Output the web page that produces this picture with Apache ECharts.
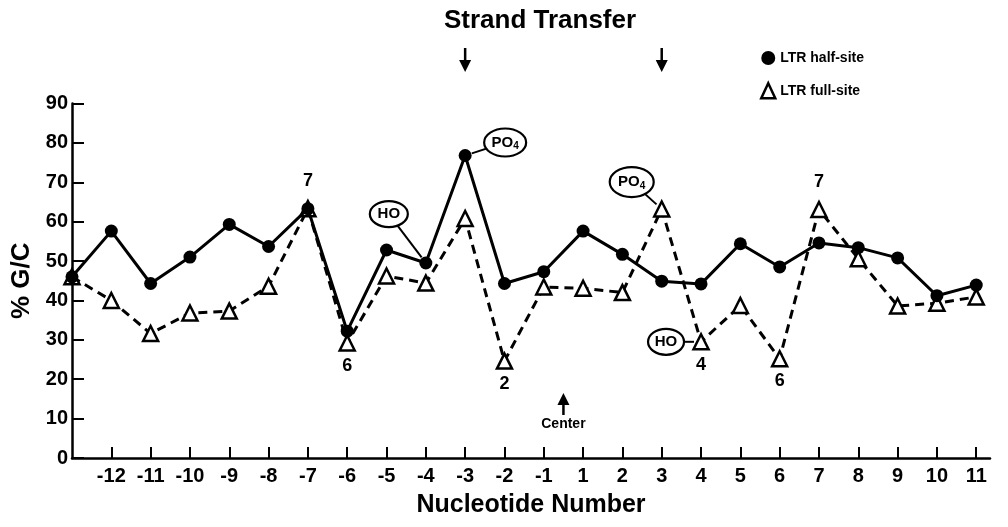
<!DOCTYPE html>
<html><head><meta charset="utf-8">
<script src="https://cdn.jsdelivr.net/npm/echarts@6/dist/echarts.min.js"></script>
<style>html,body{margin:0;padding:0;background:#fff}#c{width:1008px;height:527px}</style>
</head><body><div id="c"></div>
<script>
// ---- data ----
const categories = ['-13','-12','-11','-10','-9','-8','-7','-6','-5','-4','-3','-2','-1','1','2','3','4','5','6','7','8','9','10','11'];
const tickLabels = ['','-12','-11','-10','-9','-8','-7','-6','-5','-4','-3','-2','-1','1','2','3','4','5','6','7','8','9','10','11'];
const halfSite = [46, 57.6, 44.3, 51, 59.3, 53.7, 63.3, 32.2, 52.8, 49.5, 76.8, 44.3, 47.3, 57.6, 51.7, 44.9, 44.2, 54.4, 48.5, 54.6, 53.4, 50.8, 41.2, 43.9];
const fullSite = [46, 40, 31.6, 36.8, 37.3, 43.6, 63.3, 29.2, 46.2, 44.4, 60.8, 24.6, 43.4, 43.1, 42, 63.2, 29.5, 38.7, 25.2, 63.1, 50.6, 38.6, 39.3, 40.9];
const peakNumbers = {6:'7', 7:'6', 11:'2', 16:'4', 18:'6', 19:'7'};
const seriesNames = ['LTR half-site', 'LTR full-site'];

const FONT = '"Liberation Sans", Arial, Helvetica, sans-serif';
const chart = echarts.init(document.getElementById('c'), null, {renderer:'canvas'});
const tickIdx = categories.map((c,i)=>i).filter(i=>i>0);
const peakPos = {6:'top', 19:'top'};

chart.setOption({
  animation:false,
  backgroundColor:'#fff',
  grid:{left:72, right:18, top:103.5, bottom:69},
  legend:{
    orient:'vertical', left:755, top:46, itemGap:17, itemWidth:14, itemHeight:15,
    textStyle:{fontFamily:FONT, fontWeight:'bold', fontSize:14, color:'#000'},
    data:[
      {name:seriesNames[0], icon:'circle', itemStyle:{color:'#000', borderWidth:0}},
      {name:seriesNames[1], icon:'triangle', itemStyle:{color:'#fff', borderColor:'#000', borderWidth:2.5}}
    ]
  },
  xAxis:{
    type:'value', min:0, max:23.35,
    name:'Nucleotide Number', nameLocation:'middle', nameGap:35,
    nameTextStyle:{fontFamily:FONT, fontWeight:'bold', fontSize:25, color:'#000'},
    axisLine:{show:true, lineStyle:{color:'#000', width:2.5}},
    axisTick:{show:true, inside:true, length:11, lineStyle:{color:'#000', width:2}, customValues:tickIdx},
    axisLabel:{show:true, customValues:tickIdx, margin:8, formatter:v=>tickLabels[Math.round(v)],
      fontFamily:FONT, fontWeight:'bold', fontSize:20, color:'#000'},
    splitLine:{show:false}
  },
  yAxis:{
    type:'value', min:0, max:90, interval:10,
    name:'% G/C', nameLocation:'middle', nameGap:31, nameRotate:90,
    nameTextStyle:{fontFamily:FONT, fontWeight:'bold', fontSize:26, color:'#000'},
    axisLine:{show:true, lineStyle:{color:'#000', width:2.5}},
    axisTick:{show:true, inside:true, length:12, lineStyle:{color:'#000', width:2}},
    axisLabel:{margin:4, fontFamily:FONT, fontWeight:'bold', fontSize:20, color:'#000'},
    splitLine:{show:false}
  },
  series:[
    {
      name:seriesNames[1], type:'line', z:3,
      data:fullSite.map((v,i)=>{
        const d = {value:[i,v]};
        if (peakNumbers[i]) d.label = {show:true, formatter:peakNumbers[i], position:peakPos[i]||'bottom',
          distance:peakPos[i]?10:5, fontFamily:FONT, fontWeight:'bold', fontSize:18, color:'#000'};
        return d;
      }),
      symbol:'triangle', symbolSize:15, showAllSymbol:true,
      lineStyle:{color:'#000', width:3, type:[9,6]},
      itemStyle:{color:'#fff', borderColor:'#000', borderWidth:2.5}
    },
    {
      name:seriesNames[0], type:'line', z:4,
      data:halfSite.map((v,i)=>[i,v]),
      symbol:'circle', symbolSize:13, showAllSymbol:true,
      lineStyle:{color:'#000', width:3},
      itemStyle:{color:'#000', borderWidth:0}
    }
  ]
});

// ---- annotations anchored to data points ----
const P = (x,y)=>chart.convertToPixel({gridIndex:0},[x,y]);
const notes = [
  {idx:9,  series:halfSite, text:'HO',  dx:-37, dy:-49, rx:19, ry:13},
  {idx:10, series:halfSite, text:'PO4', dx:40,  dy:-13, rx:21, ry:14},
  {idx:15, series:fullSite, text:'PO4', dx:-30, dy:-27, rx:22, ry:15},
  {idx:16, series:fullSite, text:'HO',  dx:-35, dy:0,   rx:18, ry:13}
];
const g = [];
notes.forEach(n=>{
  const a = P(n.idx, n.series[n.idx]);
  const cx = a[0]+n.dx, cy = a[1]+n.dy;
  const vx = cx-a[0], vy = cy-a[1], L = Math.hypot(vx,vy);
  const sx = a[0]+vx/L*7, sy = a[1]+vy/L*7;
  g.push({type:'line', z:100, shape:{x1:sx,y1:sy,x2:cx,y2:cy}, style:{stroke:'#000', lineWidth:2}});
  g.push({type:'ellipse', z:101, shape:{cx, cy, rx:n.rx, ry:n.ry}, style:{fill:'#fff', stroke:'#000', lineWidth:2.2}});
  const txt = n.text==='PO4' ? '{a|PO}{b|4}' : '{a|HO}';
  g.push({type:'text', z:102, x:cx, y:cy, style:{text:txt, align:'center', verticalAlign:'middle',
    rich:{a:{fontFamily:FONT, fontWeight:'bold', fontSize:15, fill:'#000'},
          b:{fontFamily:FONT, fontWeight:'bold', fontSize:10, fill:'#000', padding:[8,0,0,0]}}}});
});
// Strand Transfer title and arrows at positions -3 and 3
g.push({type:'text', z:102, x:540, y:21, style:{text:'Strand Transfer', align:'center', verticalAlign:'middle',
  font:'bold 26px '+FONT, fill:'#000'}});
[10,15].forEach(i=>{
  const x = P(i,0)[0];
  g.push({type:'line', z:102, shape:{x1:x,y1:48,x2:x,y2:62}, style:{stroke:'#000', lineWidth:2.5}});
  g.push({type:'polygon', z:102, shape:{points:[[x-6,60],[x+6,60],[x,72]]}, style:{fill:'#000'}});
});
// Center marker between -1 and 1
{
  const c = P(12.5, 16);
  const x = c[0], y = c[1];
  g.push({type:'polygon', z:102, shape:{points:[[x-6,y+10],[x+6,y+10],[x,y-2]]}, style:{fill:'#000'}});
  g.push({type:'line', z:102, shape:{x1:x,y1:y+8,x2:x,y2:y+20}, style:{stroke:'#000', lineWidth:2.5}});
  g.push({type:'text', z:102, x:x, y:y+29, style:{text:'Center', align:'center', verticalAlign:'middle',
    font:'bold 14px '+FONT, fill:'#000'}});
}
chart.setOption({graphic:{elements:g}});
</script></body></html>
